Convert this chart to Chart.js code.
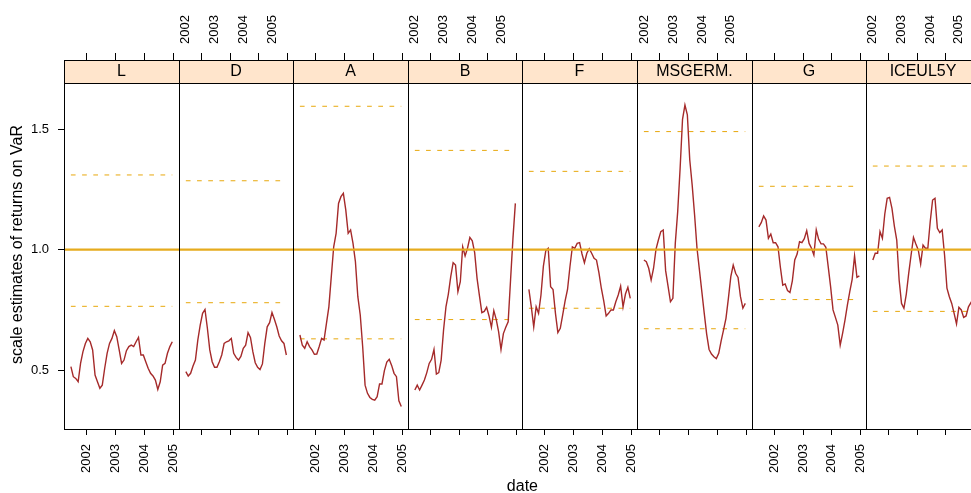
<!DOCTYPE html>
<html>
<head>
<meta charset="utf-8">
<script src="https://cdn.jsdelivr.net/npm/chart.js@4"></script>
<style>
  html, body { margin: 0; padding: 0; background: #fff; }
  #wrap { position: relative; width: 971px; height: 493px; overflow: hidden; }
  #wrap canvas { position: absolute; left: 0; top: 0; }
</style>
</head>
<body>
<div id="wrap"></div>
<script>
// panels, left to right
var panelNames = ['L', 'D', 'A', 'B', 'F', 'MSGERM.', 'G', 'ICEUL5Y'];

// monthly readings (mid month)
var months = [
  '2001-06','2001-07','2001-08','2001-09','2001-10','2001-11','2001-12',
  '2002-01','2002-02','2002-03','2002-04','2002-05','2002-06','2002-07','2002-08','2002-09','2002-10','2002-11','2002-12',
  '2003-01','2003-02','2003-03','2003-04','2003-05','2003-06','2003-07','2003-08','2003-09','2003-10','2003-11','2003-12',
  '2004-01','2004-02','2004-03','2004-04','2004-05','2004-06','2004-07','2004-08','2004-09','2004-10','2004-11','2004-12'
];

var valsL = [0.515,0.473,0.466,0.452,0.528,0.577,0.611,0.632,0.618,0.584,0.480,0.452,0.425,0.438,0.508,0.570,0.611,0.632,0.664,0.639,0.584,0.528,0.542,0.581,0.598,0.604,0.598,0.618,0.636,0.563,0.563,0.535,0.508,0.487,0.476,0.459,0.420,0.452,0.521,0.528,0.570,0.598,0.618];
var valsD = [0.494,0.476,0.487,0.517,0.542,0.625,0.687,0.736,0.752,0.674,0.584,0.535,0.512,0.512,0.535,0.563,0.611,0.618,0.622,0.632,0.570,0.553,0.542,0.557,0.591,0.604,0.656,0.636,0.577,0.531,0.512,0.503,0.526,0.611,0.680,0.697,0.739,0.711,0.680,0.642,0.622,0.611,0.563];
var valsA = [0.646,0.604,0.591,0.618,0.598,0.584,0.566,0.567,0.598,0.632,0.625,0.694,0.763,0.888,1.012,1.068,1.192,1.220,1.234,1.165,1.068,1.082,1.026,0.950,0.805,0.729,0.598,0.438,0.404,0.387,0.379,0.376,0.390,0.443,0.443,0.498,0.534,0.545,0.520,0.487,0.473,0.373,0.349];
var valsB = [0.418,0.438,0.418,0.438,0.459,0.490,0.528,0.545,0.586,0.484,0.490,0.542,0.667,0.763,0.816,0.888,0.946,0.936,0.826,0.867,1.012,0.974,1.006,1.051,1.037,0.988,0.881,0.808,0.739,0.744,0.761,0.725,0.678,0.747,0.711,0.660,0.586,0.652,0.678,0.701,0.874,1.047,1.192];
var valsF = [0.835,0.763,0.680,0.763,0.736,0.812,0.932,0.996,1.006,0.846,0.835,0.736,0.656,0.674,0.729,0.788,0.835,0.929,1.012,1.006,1.026,1.029,0.982,0.946,0.985,1.004,0.985,0.964,0.957,0.905,0.840,0.788,0.725,0.736,0.750,0.750,0.784,0.812,0.849,0.763,0.816,0.844,0.798];
var valsMSGERM = [0.957,0.950,0.923,0.874,0.923,1.001,1.040,1.075,1.082,0.913,0.849,0.784,0.798,1.026,1.158,1.337,1.541,1.600,1.559,1.372,1.268,1.144,1.006,0.916,0.826,0.736,0.650,0.586,0.567,0.556,0.548,0.570,0.622,0.667,0.715,0.798,0.888,0.936,0.902,0.885,0.805,0.757,0.777];
var valsG = [1.095,1.112,1.140,1.123,1.047,1.065,1.029,1.029,1.012,0.927,0.853,0.858,0.830,0.822,0.871,0.957,0.982,1.033,1.029,1.046,1.079,1.026,1.006,0.978,1.082,1.043,1.024,1.024,1.010,0.929,0.846,0.750,0.719,0.687,0.604,0.653,0.708,0.770,0.826,0.877,0.974,0.885,0.891];
var valsICEUL5Y = [0.957,0.985,0.985,1.075,1.047,1.148,1.213,1.217,1.171,1.098,1.040,0.874,0.777,0.757,0.816,0.902,0.978,1.051,1.024,0.999,0.941,1.019,1.006,1.006,1.116,1.206,1.213,1.089,1.071,1.082,0.978,0.840,0.805,0.777,0.736,0.692,0.761,0.750,0.719,0.725,0.763,0.780,0.760];

var seriesValues = [valsL, valsD, valsA, valsB, valsF, valsMSGERM, valsG, valsICEUL5Y];

// VaR band levels (dashed lines)
var upperBand = [1.310, 1.286, 1.595, 1.412, 1.325, 1.490, 1.263, 1.347];
var lowerBand = [0.765, 0.780, 0.630, 0.710, 0.757, 0.672, 0.793, 0.744];
var refLevel = 1.0;

var yearTicks = [2002, 2003, 2004, 2005];
var yTicks = [0.5, 1.0, 1.5];

// layout
var xMin = 2001.22, xMax = 2005.19;
var yMin = 0.256, yMax = 1.787;
var canvasW = 1000, canvasH = 493;
var firstLeft = 64, panelW = 114.6;
var stripTop = 60, stripH = 23;

var FONT = "'Liberation Sans', Arial, Helvetica, sans-serif";
var lineCol = '#a52a2a';
var refCol = '#e6ab1e';
var bandCol = '#e8a80c';

function toYear(m) {
  var p = m.split('-');
  return +p[0] + (+p[1] - 0.5) / 12;
}
var xs = months.map(toYear);

function stripPlugin(name, drawXTitle) {
  return {
    id: 'strip',
    afterDraw: function(chart) {
      var ctx = chart.ctx, a = chart.chartArea;
      var l = Math.round(a.left), r = Math.round(a.right);
      ctx.save();
      ctx.fillStyle = '#ffe5cc';
      ctx.fillRect(l, stripTop, r - l, stripH);
      ctx.strokeStyle = '#000';
      ctx.lineWidth = 1;
      ctx.strokeRect(l + 0.5, stripTop + 0.5, r - l, stripH);
      ctx.strokeRect(l + 0.5, stripTop + 0.5, r - l, Math.round(a.bottom) - stripTop);
      ctx.fillStyle = '#000';
      ctx.font = '16px ' + FONT;
      ctx.textAlign = 'center';
      ctx.textBaseline = 'middle';
      ctx.fillText(name, (l + r) / 2, stripTop + stripH / 2 + 0.5);
      if (drawXTitle) {
        ctx.fillText('date', (firstLeft + firstLeft + 8 * panelW) / 2, 487);
      }
      ctx.restore();
    }
  };
}

var wrap = document.getElementById('wrap');

panelNames.forEach(function(name, i) {
  var canvas = document.createElement('canvas');
  canvas.width = canvasW;
  canvas.height = canvasH;
  canvas.style.width = canvasW + 'px';
  canvas.style.height = canvasH + 'px';
  wrap.appendChild(canvas);

  var left = Math.round(firstLeft + i * panelW);
  var right = Math.round(firstLeft + (i + 1) * panelW);
  var vals = seriesValues[i];
  var labelsBottom = (i % 2 === 0);

  var xAxisBase = function(pos, showLabels, tickLen, h) {
    return {
      type: 'linear',
      position: pos,
      min: xMin,
      max: xMax,
      afterBuildTicks: function(s) { s.ticks = yearTicks.map(function(v) { return { value: v }; }); },
      afterFit: function(s) { s.height = h; },
      ticks: {
        autoSkip: false,
        minRotation: 90,
        maxRotation: 90,
        padding: 9,
        color: '#000',
        font: { family: FONT, size: 13 },
        callback: function(v) { return showLabels ? String(v) : ''; }
      },
      grid: { drawOnChartArea: false, drawTicks: true, tickLength: tickLen, color: '#000', lineWidth: 1 },
      border: { display: false }
    };
  };

  new Chart(canvas.getContext('2d'), {
    type: 'line',
    data: {
      datasets: [
        {
          label: 'ref',
          data: [{ x: xMin, y: refLevel }, { x: xMax, y: refLevel }],
          borderColor: refCol,
          borderWidth: 2.2,
          pointRadius: 0,
          order: 0
        },
        {
          label: name,
          data: xs.map(function(x, j) { return { x: x, y: vals[j] }; }),
          borderColor: lineCol,
          borderWidth: 1.4,
          pointRadius: 0,
          tension: 0,
          order: 1
        },
        {
          label: 'upper',
          data: [{ x: xs[0], y: upperBand[i] }, { x: xs[xs.length - 1], y: upperBand[i] }],
          borderColor: bandCol,
          borderWidth: 1,
          borderDash: [4.7, 6.5],
          pointRadius: 0,
          order: 2
        },
        {
          label: 'lower',
          data: [{ x: xs[0], y: lowerBand[i] }, { x: xs[xs.length - 1], y: lowerBand[i] }],
          borderColor: bandCol,
          borderWidth: 1,
          borderDash: [4.7, 6.5],
          pointRadius: 0,
          order: 2
        }
      ]
    },
    options: {
      responsive: false,
      animation: false,
      layout: {
        padding: { left: i === 0 ? 0 : left, right: canvasW - right, top: 0, bottom: 0 }
      },
      scales: {
        x: xAxisBase('bottom', labelsBottom, 6, canvasH - 429),
        x2: xAxisBase('top', !labelsBottom, 7, stripTop),
        y: {
          display: i === 0,
          position: 'left',
          min: yMin,
          max: yMax,
          afterBuildTicks: function(s) { s.ticks = yTicks.map(function(v) { return { value: v }; }); },
          afterFit: function(s) { s.width = (i === 0) ? firstLeft : 0; },
          ticks: {
            padding: 9,
            color: '#000',
            font: { family: FONT, size: 13 },
            callback: function(v) { return Number(v).toFixed(1); }
          },
          grid: { drawOnChartArea: false, drawTicks: true, tickLength: 6, color: '#000' },
          border: { display: false },
          title: {
            display: true,
            text: 'scale estimates of returns on VaR',
            color: '#000',
            font: { family: FONT, size: 16 },
            padding: { top: 8, bottom: 0 }
          }
        }
      },
      plugins: {
        legend: { display: false },
        tooltip: { enabled: false }
      }
    },
    plugins: [stripPlugin(name, i === 0)]
  });
});
</script>
</body>
</html>
